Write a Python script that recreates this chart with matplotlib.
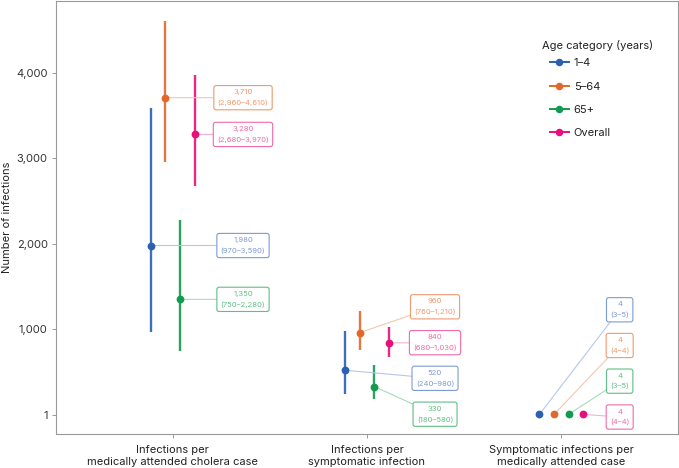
import matplotlib
matplotlib.use('Agg')
import matplotlib.pyplot as plt
from matplotlib.lines import Line2D

plt.rcParams['font.family'] = ['Inter', 'DejaVu Sans']

categories = ['Infections per\nmedically attended cholera case',
              'Infections per\nsymptomatic infection',
              'Symptomatic infections per\nmedically attended case']
groups = ['1\u20134', '5\u201364', '65+', 'Overall']

est = {
    '1\u20134':   [1980, 520, 4],
    '5\u201364':  [3710, 960, 4],
    '65+':        [1350, 330, 4],
    'Overall':    [3280, 840, 4],
}
low = {
    '1\u20134':   [970, 240, 3],
    '5\u201364':  [2960, 760, 4],
    '65+':        [750, 180, 3],
    'Overall':    [2680, 680, 4],
}
high = {
    '1\u20134':   [3590, 980, 5],
    '5\u201364':  [4610, 1210, 4],
    '65+':        [2280, 580, 5],
    'Overall':    [3970, 1030, 4],
}

yticks = [1, 1000, 2000, 3000, 4000]

# styling
colors = {'1\u20134': '#2a5fb3', '5\u201364': '#e2672a', '65+': '#129a4e', 'Overall': '#e80f78'}
light = {'1\u20134': '#7d9bd5', '5\u201364': '#f09a6e', '65+': '#5fbf85', 'Overall': '#f06aa8'}
seg = {'1\u20134': '#b5c7ea', '5\u201364': '#f7c6ac', '65+': '#a6dcba', 'Overall': '#f6b0cf'}
offsets = [-0.1125, -0.0375, 0.0375, 0.1125]

# label box positions (layout, per category)
label_x = [1.362, 2.35, 3.30]
label_y = {
    '1\u20134':   [None, 426, 1228],
    '5\u201364':  [None, 1263, 810],
    '65+':        [None, 6, 393],
    'Overall':    [None, 843, -27],
}

fig = plt.figure(figsize=(6.79, 4.68), dpi=100)
ax = fig.add_axes([0.0825, 0.0726, 0.916, 0.925])

for gi, g in enumerate(groups):
    for ci in range(3):
        x = ci + 1 + offsets[gi]
        ax.plot([x, x], [low[g][ci], high[g][ci]], color=colors[g], lw=1.7,
                alpha=0.9, solid_capstyle='butt', zorder=3)
        ax.plot(x, est[g][ci], 'o', color=colors[g], ms=4.6, zorder=5)
        ly = label_y[g][ci] if label_y[g][ci] is not None else est[g][ci]
        txt = f'{est[g][ci]:,}\n({low[g][ci]:,}\u2013{high[g][ci]:,})'
        ax.annotate(txt, xy=(x, est[g][ci]), xytext=(label_x[ci], ly),
                    ha='center', va='center', fontsize=5.5, color=light[g],
                    linespacing=1.75,
                    bbox=dict(boxstyle='round,pad=0.5,rounding_size=0.3',
                              fc='white', ec=light[g], lw=0.8),
                    arrowprops=dict(arrowstyle='-', color=seg[g], lw=0.8,
                                    shrinkA=0, shrinkB=0),
                    zorder=4)

ax.set_xlim(0.4, 3.6)
ax.set_ylim(-226, 4840)
ax.set_xticks([1, 2, 3])
ax.set_xticklabels(categories, fontsize=8, color='#222222', linespacing=1.25)
ax.set_yticks(yticks)
ax.set_yticklabels([f'{v:,}' for v in yticks], fontsize=8, color='#333333')
ax.set_ylabel('Number of infections', fontsize=8, color='#222222')
ax.yaxis.set_label_coords(-0.0707, 0.5)
ax.tick_params(axis='both', length=3, width=0.6, color='#888888')
ax.tick_params(axis='x', pad=5)
ax.tick_params(axis='y', pad=3)
for s in ax.spines.values():
    s.set_color('#9a9a9a')
    s.set_linewidth(0.8)

handles = [Line2D([0], [0], color=colors[g], lw=1.4, marker='o', ms=4.4)
           for g in groups]
leg = ax.legend(handles, groups, loc='upper left',
                bbox_to_anchor=(0.7846, 0.881), frameon=False, fontsize=8,
                borderpad=0, labelspacing=1.2,
                handlelength=1.71, handletextpad=0.45)
for t in leg.get_texts():
    t.set_color('#222222')
ax.text(0.7814, 0.898, 'Age category (years)', transform=ax.transAxes,
        ha='left', va='center', fontsize=8, color='#222222')

fig.savefig('out.png', dpi=100)
